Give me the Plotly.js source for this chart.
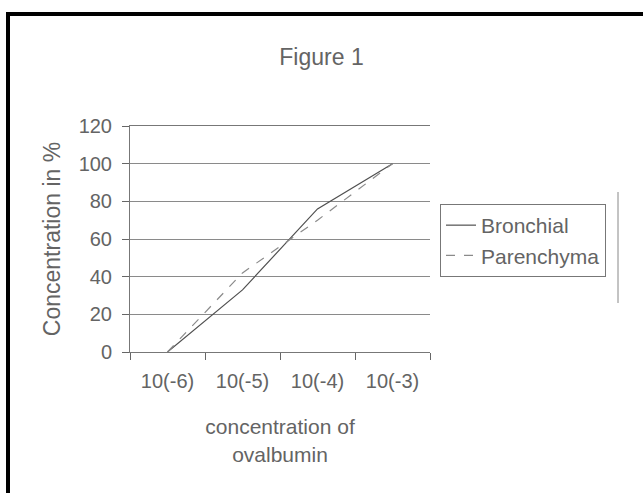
<!DOCTYPE html>
<html>
<head>
<meta charset="utf-8">
<script src="https://cdn.plot.ly/plotly-3.0.1.min.js"></script>
<style>
  html, body { margin: 0; padding: 0; background: #fff; }
  #wrap { position: relative; width: 643px; height: 493px; overflow: hidden; }
  #chart { position: absolute; left: 0; top: 0; width: 643px; height: 493px; }
  #frame { position: absolute; left: 6px; top: 12px; width: 660px; height: 500px;
           border-top: 4px solid #000; border-left: 4px solid #000; pointer-events: none; }
</style>
</head>
<body>
<div id="wrap">
  <div id="chart"></div>
  <div id="frame"></div>
</div>
<script>
const categories = ['10(-6)', '10(-5)', '10(-4)', '10(-3)'];
const bronchial = [0, 33, 76, 100];
const parenchyma = [0, 42, 70, 100];
const seriesNames = ['Bronchial', 'Parenchyma'];

const FONT = '"Liberation Sans", Arial, sans-serif';
const TXT = '#646464';

const traces = [
  { x: categories, y: bronchial, name: seriesNames[0], type: 'scatter', mode: 'lines',
    line: { color: '#505050', width: 1.2 } },
  { x: categories, y: parenchyma, name: seriesNames[1], type: 'scatter', mode: 'lines',
    line: { color: '#8a8a8a', width: 1.2, dash: 'dash' } }
];

const layout = {
  width: 643, height: 493,
  margin: { l: 130, r: 213, t: 126, b: 141 },
  paper_bgcolor: '#fff', plot_bgcolor: '#fff',
  font: { family: FONT, color: TXT, size: 20 },
  showlegend: true,
  title: { text: 'Figure 1', font: { family: FONT, size: 23, color: TXT },
           x: 0.5, xref: 'container', y: 1 - 57 / 493, yref: 'container', yanchor: 'middle' },
  xaxis: {
    type: 'category', range: [-0.5, 3.5], tickson: 'boundaries',
    ticks: 'outside', ticklen: 7, tickcolor: '#666',
    showline: true, linecolor: '#777', linewidth: 1, mirror: true,
    showgrid: false, zeroline: false,
    tickfont: { family: FONT, size: 20, color: TXT },
    ticklabelstandoff: 11,
    title: { text: 'concentration of<br>ovalbumin', font: { family: FONT, size: 21, color: TXT }, standoff: 28 },
    automargin: true
  },
  yaxis: {
    range: [0, 120], dtick: 20, tick0: 0,
    ticks: 'outside', ticklen: 7, tickcolor: '#666',
    showline: true, linecolor: '#777', linewidth: 1,
    showgrid: true, gridcolor: '#8a8a8a', gridwidth: 1, zeroline: false,
    tickfont: { family: FONT, size: 20, color: TXT },
    ticklabelstandoff: 6,
    title: { text: 'Concentration in %', font: { family: FONT, size: 23, color: TXT }, standoff: 11 },
    automargin: true
  },
  legend: {
    x: (440 - 130) / 300, xanchor: 'left', y: (352 - 204) / 226, yanchor: 'top',
    bgcolor: '#fff', bordercolor: '#777', borderwidth: 1,
    font: { family: FONT, size: 21, color: TXT },
    itemwidth: 30, tracegroupgap: 0
  },
  shapes: [
    { type: 'line', xref: 'paper', yref: 'paper',
      x0: (618 - 130) / 300, x1: (618 - 130) / 300, y0: (352 - 303) / 226, y1: (352 - 192) / 226,
      line: { color: '#888', width: 1 } }
  ]
};

Plotly.newPlot('chart', traces, layout, { displayModeBar: false, staticPlot: true });
</script>
</body>
</html>
